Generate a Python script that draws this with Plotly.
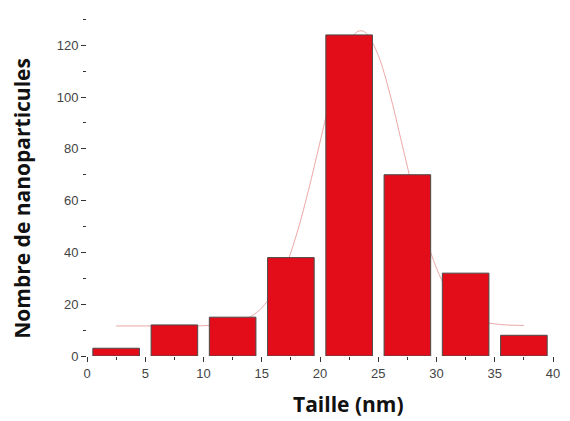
import plotly.graph_objects as go

# Histogram data
bin_centers = [2.5, 7.5, 12.5, 17.5, 22.5, 27.5, 32.5, 37.5]
counts = [3, 12, 15, 38, 124, 70, 32, 8]

# Fitted curve
fit_x = [2.5, 5, 7.5, 10, 12.5, 14, 15, 16, 17, 18, 19, 20, 21, 22, 23, 23.5,
         24, 25, 26, 27, 28, 29, 30, 31, 32, 33, 34, 35, 36, 37.5]
fit_y = [11.6, 11.6, 11.6, 11.7, 12.7, 15.1, 18.6, 24.6, 33.9, 47.1, 63.8, 82.6,
         101.2, 116.1, 124.5, 125.6, 124.5, 116.1, 101.2, 82.6, 63.8, 47.1, 33.9,
         24.6, 18.6, 15.1, 13.2, 12.4, 12.0, 11.8]

x_ticks = [0, 5, 10, 15, 20, 25, 30, 35, 40]
y_ticks = [0, 20, 40, 60, 80, 100, 120]

fig = go.Figure()
fig.add_trace(go.Scatter(
    x=fit_x, y=fit_y, mode="lines", line=dict(color="rgb(236,168,168)", width=1, shape="spline"),
    zorder=0, showlegend=False, hoverinfo="skip"))
fig.add_trace(go.Bar(
    x=bin_centers, y=counts, width=4,
    marker=dict(color="#e30d19", line=dict(color="#4a4a4a", width=1)),
    zorder=1, showlegend=False))

# page has an 8px body margin; compensate
OFF = 8
W, H = 570 - OFF, 421 - OFF
l, r, t, b = 87.3 - OFF, 17.3, 9 - OFF, 65.3
pw = W - l - r
ph = H - t - b
x0_page, y0_page = 87.3, 355.7  # plot origin in page pixels

fig.update_layout(
    width=W, height=H,
    margin=dict(l=l, r=r, t=t, b=b, pad=0),
    plot_bgcolor="white", paper_bgcolor="white",
    font=dict(family="Arial, Liberation Sans", size=13, color="#444"),
    xaxis=dict(range=[0, 40], tickvals=x_ticks, ticks="outside", ticklen=5, tickwidth=1,
               tickcolor="#333", showline=True, linecolor="#333", linewidth=1,
               showgrid=False, zeroline=False,
               minor=dict(dtick=2.5, tick0=0, ticks="outside", ticklen=3, tickcolor="#333")),
    yaxis=dict(range=[0, 134], tickvals=y_ticks, ticks="outside", ticklen=5, tickwidth=1,
               tickcolor="#333", showline=True, linecolor="#333", linewidth=1,
               showgrid=False, zeroline=False,
               minor=dict(dtick=10, tick0=0, ticks="outside", ticklen=3, tickcolor="#333")),
    annotations=[
        dict(text="<b>Taille (nm)</b>", xref="paper", yref="paper",
             x=(348 - x0_page) / pw, y=(y0_page - 404) / ph, xanchor="center", yanchor="middle",
             showarrow=False, font=dict(family="Open Sans", size=21, color="#111")),
        dict(text="<b>Nombre de nanoparticules</b>", xref="paper", yref="paper",
             x=(23 - x0_page) / pw, y=(y0_page - 198) / ph, xanchor="center", yanchor="middle",
             textangle=-90, showarrow=False, font=dict(family="Open Sans", size=21, color="#111")),
    ],
)

fig.write_html("out.html")
